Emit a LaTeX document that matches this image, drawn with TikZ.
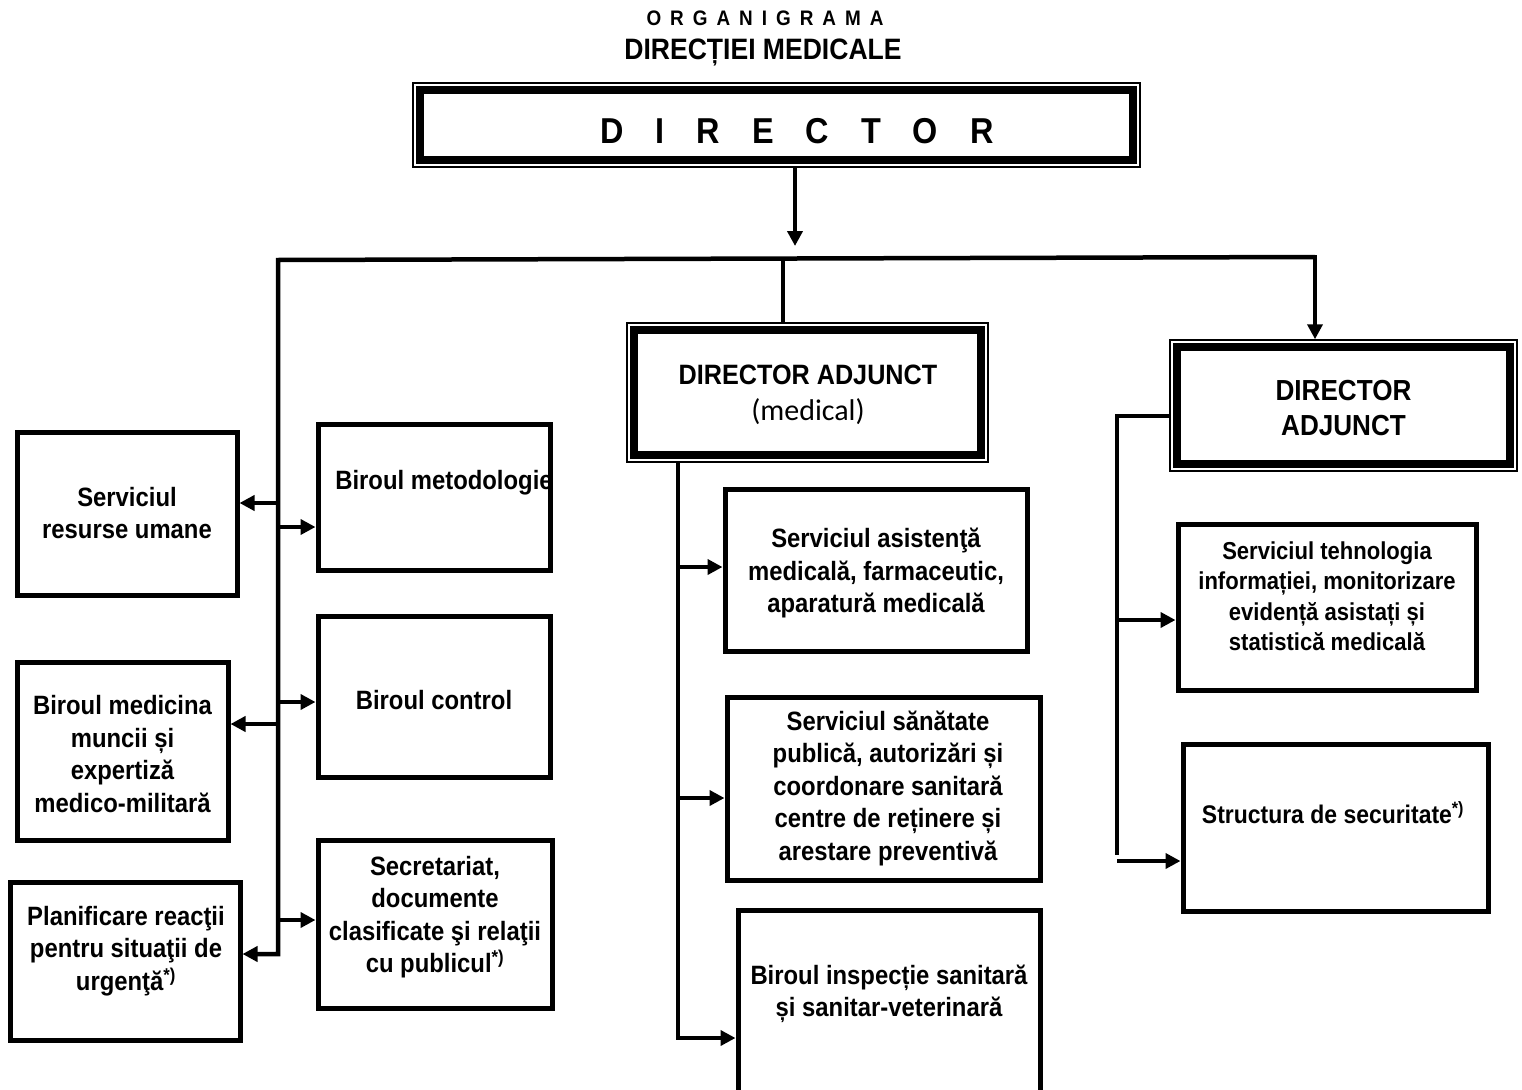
\documentclass[tikz,border=0pt]{standalone}
\usepackage{fontspec}
\setmainfont{Liberation Sans}[FakeStretch=0.9]
\newfontfamily\calfont{Carlito}
\usetikzlibrary{arrows.meta}
\newcommand\lspD{\hspace{32pt}}
\newcommand\lspO{\hspace{9pt}}
\begin{document}
\begin{tikzpicture}[x=1pt,y=-1pt,
  box/.style={draw, line width=5pt, inner sep=0pt},
  thinbox/.style={draw, line width=1.5pt, inner sep=0pt},
  thickin/.style={line width=8pt},
  txt/.style={align=center, inner sep=0pt, font=\bfseries\fontsize{26.5}{32.5}\selectfont},
  conn/.style={line width=4pt},
  arr/.style={conn, -{Triangle[length=15pt,width=15pt]}},
]
\useasboundingbox[fill=white] (0,0) rectangle (1522,1089);

% titles
\node[inner sep=0pt, font=\bfseries\fontsize{21}{24}\selectfont] (t1) at (765,18) {O\lspO R\lspO G\lspO A\lspO N\lspO I\lspO G\lspO R\lspO A\lspO M\lspO A};
\node[inner sep=0pt, font=\bfseries\fontsize{29.5}{32}\selectfont] (t2) at (763,52) {DIRECȚIEI MEDICALE};

% director
\node[thinbox, minimum width=727pt, minimum height=84pt] (dir) at (776.5,125) {};
\draw[thickin] ([shift={(7.5pt,-7.5pt)}]dir.north west) rectangle ([shift={(-7.5pt,7.5pt)}]dir.south east);
\node[inner sep=0pt, font=\bfseries\fontsize{36}{40}\selectfont] (t-dir) at (797,131) {D\lspD I\lspD R\lspD E\lspD C\lspD T\lspD O\lspD R};

% director adjunct (medical)
\node[thinbox, minimum width=361pt, minimum height=139pt] (dam) at (807.5,392.5) {};
\draw[thickin] ([shift={(7.5pt,-7.5pt)}]dam.north west) rectangle ([shift={(-7.5pt,7.5pt)}]dam.south east);
\node[txt, font=\bfseries\fontsize{28}{36}\selectfont] (t-dam) at (808,375) {DIRECTOR ADJUNCT};
\node[inner sep=0pt, font=\calfont\fontsize{30}{36}\selectfont] (t-dam2) at (808,412) {(medical)};

% director adjunct (right)
\node[thinbox, minimum width=347pt, minimum height=131pt] (dar) at (1343.5,405.5) {};
\draw[thickin] ([shift={(7.5pt,-7.5pt)}]dar.north west) rectangle ([shift={(-7.5pt,7.5pt)}]dar.south east);
\node[txt, font=\bfseries\fontsize{29}{35}\selectfont] (t-dar) at (1343.5,408) {DIRECTOR\\ADJUNCT};

% left boxes
\node[box, minimum width=220pt, minimum height=163pt] (rh) at (127,513.5) {};
\node[txt] (t-rh) at (127,513) {Serviciul\\resurse umane};
\node[box, minimum width=211pt, minimum height=178pt] (bmm) at (122.5,751) {};
\node[txt] (t-bmm) at (122.5,754) {Biroul medicina\\muncii și\\expertiză\\medico-militară};
\node[box, minimum width=230pt, minimum height=158pt] (pl) at (125,961) {};
\node[txt] (t-pl) at (126,951) {Planificare reacţii\\pentru situaţii de\\urgenţă\textsuperscript{*)}};

\node[box, minimum width=232pt, minimum height=146pt] (bm) at (434,497) {};
\node[txt] (t-bm) at (444,483) {Biroul metodologie};
\node[box, minimum width=232pt, minimum height=161pt] (bc) at (434,696.5) {};
\node[txt] (t-bc) at (434,700) {Biroul control};
\node[box, minimum width=234pt, minimum height=168pt] (sec) at (435,924) {};
\node[txt] (t-sec) at (435,917) {Secretariat,\\documente\\clasificate şi relaţii\\cu publicul\textsuperscript{*)}};

% middle boxes
\node[box, minimum width=302pt, minimum height=162pt] (sa) at (876,570) {};
\node[txt] (t-sa) at (876,573) {Serviciul asistenţă\\medicală, farmaceutic,\\aparatură medicală};
\node[box, minimum width=313pt, minimum height=183pt] (sp) at (883.5,788.5) {};
\node[txt] (t-sp) at (888,788) {Serviciul sănătate\\publică, autorizări și\\coordonare sanitară\\centre de reținere și\\arestare preventivă};
\node[box, minimum width=302pt, minimum height=190pt] (bi) at (889,1005) {};
\node[txt] (t-bi) at (889,994) {Biroul inspecție sanitară\\și sanitar-veterinară};

% right boxes
\node[box, minimum width=298pt, minimum height=166pt] (st) at (1327,607) {};
\node[txt, font=\bfseries\fontsize{24.5}{30.5}\selectfont] (t-st) at (1327,596) {Serviciul tehnologia\\informației, monitorizare\\evidență asistați și\\statistică medicală};
\node[box, minimum width=305pt, minimum height=167pt] (ss) at (1335.5,827.5) {};
\node[txt, font=\bfseries\fontsize{25.5}{30}\selectfont] (t-ss) at (1333,813) {Structura de securitate\textsuperscript{*)}};

% connectors: top
\coordinate (j0) at (795,246);
\coordinate (busL) at (278,260);
\coordinate (busM) at (783,259);
\coordinate (busR) at (1315,257);
\draw[arr] (dir.south -| j0) -- (j0);
\path ([yshift=7pt]pl.east) coordinate (pl-in);
\draw[arr, line width=4.5pt] (busR) -- (busL) |- (pl-in);
\draw[conn] (busM) -- (dam.north -| busM);
\draw[arr] ([yshift=2pt]busR) -- (dar.north -| busR);

% left side arrows
\path ([yshift=10.5pt]rh.east) coordinate (rh-in);
\path ([yshift=-30pt]bm.west) coordinate (bm-in);
\path ([yshift=27pt]bmm.east) coordinate (bmm-in);
\path ([yshift=-5.5pt]bc.west) coordinate (bc-in);
\path ([yshift=4pt]sec.west) coordinate (sec-in);
\draw[arr] (busL |- rh-in) -- (rh-in);
\draw[arr] (busL |- bm-in) -- (bm-in);
\draw[arr] (busL |- bmm-in) -- (bmm-in);
\draw[arr] (busL |- bc-in) -- (bc-in);
\draw[arr] (busL |- sec-in) -- (sec-in);

% middle column
\coordinate (mtop) at (678,462);
\coordinate (mbot) at (678,1040);
\draw[conn] (mtop) -- (mbot);
\path ([yshift=3pt]sa.west) coordinate (sa-in);
\path ([yshift=-9.5pt]sp.west) coordinate (sp-in);
\path ([yshift=-33pt]bi.west) coordinate (bi-in);
\draw[arr] (mtop |- sa-in) -- (sa-in);
\draw[arr] (mtop |- sp-in) -- (sp-in);
\draw[arr] (mtop |- bi-in) -- (bi-in);

% right column
\path ([yshift=-10.5pt]dar.west) coordinate (dar-out);
\coordinate (rbot) at (1117,855);
\draw[conn] (dar-out) -| (rbot);
\path ([yshift=-13pt]st.west) coordinate (st-in);
\path ([yshift=-33.5pt]ss.west) coordinate (ss-in);
\draw[arr] (rbot |- st-in) -- (st-in);
\draw[arr] (rbot |- ss-in) -- (ss-in);
\end{tikzpicture}
\end{document}
